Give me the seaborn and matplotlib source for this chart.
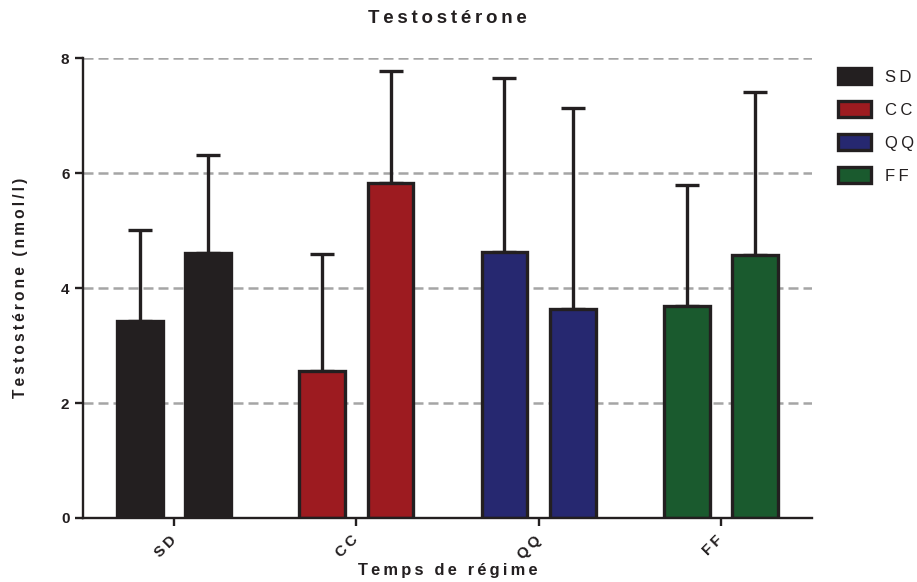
import numpy as np
import pandas as pd
import matplotlib
matplotlib.use("Agg")
import matplotlib.pyplot as plt
import matplotlib.transforms as mtransforms
from matplotlib.patches import Patch
import seaborn as sns

# Data
groups = ["SD", "CC", "QQ", "FF"]
times = ["T1", "T2"]
t1_mean = [3.43, 2.56, 4.63, 3.68]
t2_mean = [4.61, 5.83, 3.63, 4.57]
t1_err = [1.58, 2.04, 3.02, 2.11]
t2_err = [1.70, 1.94, 3.50, 2.84]
group_colors = ["#231f20", "#9d1b20", "#262870", "#1a5a2e"]
yticks = [0, 2, 4, 6, 8]

edge = "#231f20"


def spaced(s):
    # Prism-like letter spacing
    return "\u2009".join(s)


df = pd.DataFrame({
    "group": groups * 2,
    "time": [times[0]] * 4 + [times[1]] * 4,
    "value": t1_mean + t2_mean,
})
errs = {times[0]: t1_err, times[1]: t2_err}

sns.set_style("ticks")
plt.rcParams["font.family"] = ["Liberation Sans", "DejaVu Sans"]

fig = plt.figure(figsize=(9.17, 5.82), dpi=100)
ax = fig.add_axes([0.0905, 0.110, 0.795, 0.790])

sns.barplot(data=df, x="group", y="value", hue="time", order=groups,
            hue_order=times, width=0.75, gap=0.33, errorbar=None,
            edgecolor=edge, linewidth=2.4, legend=False, ax=ax)

# colour bars by group and add upper-only error bars
for p in ax.patches:
    cx = p.get_x() + p.get_width() / 2
    gi = int(round(cx))
    ti = times[0] if cx < gi else times[1]
    p.set_facecolor(group_colors[gi])
    p.set_edgecolor(edge)
    p.set_zorder(2)
    ax.errorbar(cx, p.get_height(), yerr=[[0], [errs[ti][gi]]], fmt="none",
                ecolor=edge, elinewidth=2.4, capsize=8.5, capthick=2.4,
                zorder=1)

ax.set_xlim(-0.5, 3.5)
ax.set_ylim(0, 8)
ax.set_yticks(yticks)
ax.set_axisbelow(True)
for y in yticks[1:]:
    ax.axhline(y, color="#a5a5a5", lw=1.8, ls=(0, (4.0, 2.0)), zorder=0.5)

sns.despine(ax=ax)
for s in ["left", "bottom"]:
    ax.spines[s].set_linewidth(1.7)
    ax.spines[s].set_color(edge)

ax.tick_params(axis="both", length=5.8, width=1.7, color=edge,
               labelsize=11, labelcolor=edge)
ax.tick_params(axis="y", pad=4)
ax.tick_params(axis="x", pad=5)
ax.set_xticks(range(len(groups)))
ax.set_xticklabels([spaced(g) for g in groups], rotation=45, ha="right",
                   rotation_mode="anchor", fontweight="bold")
shift = mtransforms.ScaledTranslation(-5 / 100, 0, fig.dpi_scale_trans)
for lab in ax.get_xticklabels():
    lab.set_transform(lab.get_transform() + shift)
for lab in ax.get_yticklabels():
    lab.set_fontweight("bold")

ax.set_title(spaced("Testostérone"), fontsize=13.5, fontweight="bold",
             color=edge, pad=25)
ax.set_xlabel(spaced("Temps de régime"), fontsize=11.8, fontweight="bold",
              color=edge)
ax.set_ylabel(spaced("Testostérone (nmol/l)"), fontsize=11.2,
              fontweight="bold", color=edge)
ax.xaxis.set_label_coords(0.5, -0.097)
ax.yaxis.set_label_coords(-0.075, 0.5)

handles = [Patch(facecolor=c, edgecolor=edge, linewidth=2.4) for c in group_colors]
fig.legend(handles, [spaced(g) for g in groups], loc="upper left",
           bbox_to_anchor=(838 / 917, 1 - 68 / 582), frameon=False,
           fontsize=12, handlelength=2.0, handleheight=1.1,
           labelspacing=0.98, handletextpad=0.8, borderpad=0,
           borderaxespad=0, labelcolor=edge)

fig.savefig("out.png", dpi=100)
